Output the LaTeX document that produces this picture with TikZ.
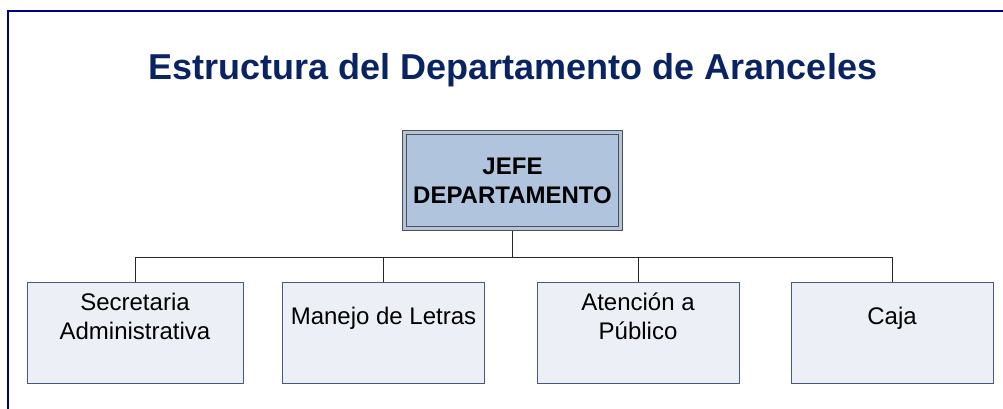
\documentclass[tikz,border=0pt]{standalone}
\usepackage{fontspec}
\setmainfont{Liberation Sans}
\usepackage{tikz}
\usetikzlibrary{positioning}

\definecolor{framenavy}{RGB}{0,0,128}
\definecolor{titlenavy}{RGB}{10,36,99}
\definecolor{jefefill}{RGB}{176,196,222}
\definecolor{jefeline}{RGB}{80,80,80}
\definecolor{areafill}{RGB}{236,239,245}
\definecolor{arealine}{RGB}{70,88,128}

\begin{document}
\begin{tikzpicture}[x=1pt, y=-1pt,
    jefebox/.style={rectangle, fill=jefefill, draw=jefeline, line width=0.9pt,
      double=jefefill, double distance=3pt, minimum width=216pt, minimum height=96pt,
      outer sep=2.5pt, align=center, font=\fontsize{24}{29}\selectfont\bfseries},
    areabox/.style={rectangle, fill=areafill, draw=arealine, line width=0.8pt,
      minimum width=202pt, minimum height=101pt, inner sep=0pt},
    areatext/.style={align=center, font=\fontsize{24}{29}\selectfont},
    conn/.style={draw=black!85, line width=0.8pt}]
  \useasboundingbox (0,0) rectangle (1003,409);

  \draw [framenavy, line width=2pt] (8,409) -- (8,11) -- (1003,11); % Draws the frame

  \node [titlenavy, font=\fontsize{36}{40}\selectfont\bfseries] (title) at (513,70)
    {Estructura del Departamento de Aranceles};

  \node [jefebox] (jefe) at (512.5,180.5) {JEFE\\DEPARTAMENTO};

  \node [areabox, minimum width=216pt] (sec) at (135,332.5) {};
  \node [areabox] (letras) at (383.5,332.5) {};
  \node [areabox] (atencion) at (638,332.5) {};
  \node [areabox] (caja) at (892,332.5) {};

  \node [areatext] (sectext) at (135,316.5) {Secretaria\\Administrativa};
  \node [areatext] (letrastext) at (383.5,318) {Manejo de Letras};
  \node [areatext] (atenciontext) at (638,316.5) {Atención a\\Público};
  \node [areatext] (cajatext) at (892,318) {Caja};

  \coordinate (bus) at (0,257);

  \draw [conn] (jefe.south) -- (jefe.south |- bus) -| (sec.north);
  \draw [conn] (jefe.south |- bus) -| (letras.north);
  \draw [conn] (jefe.south |- bus) -| (atencion.north);
  \draw [conn] (jefe.south |- bus) -| (caja.north);
\end{tikzpicture}
\end{document}
